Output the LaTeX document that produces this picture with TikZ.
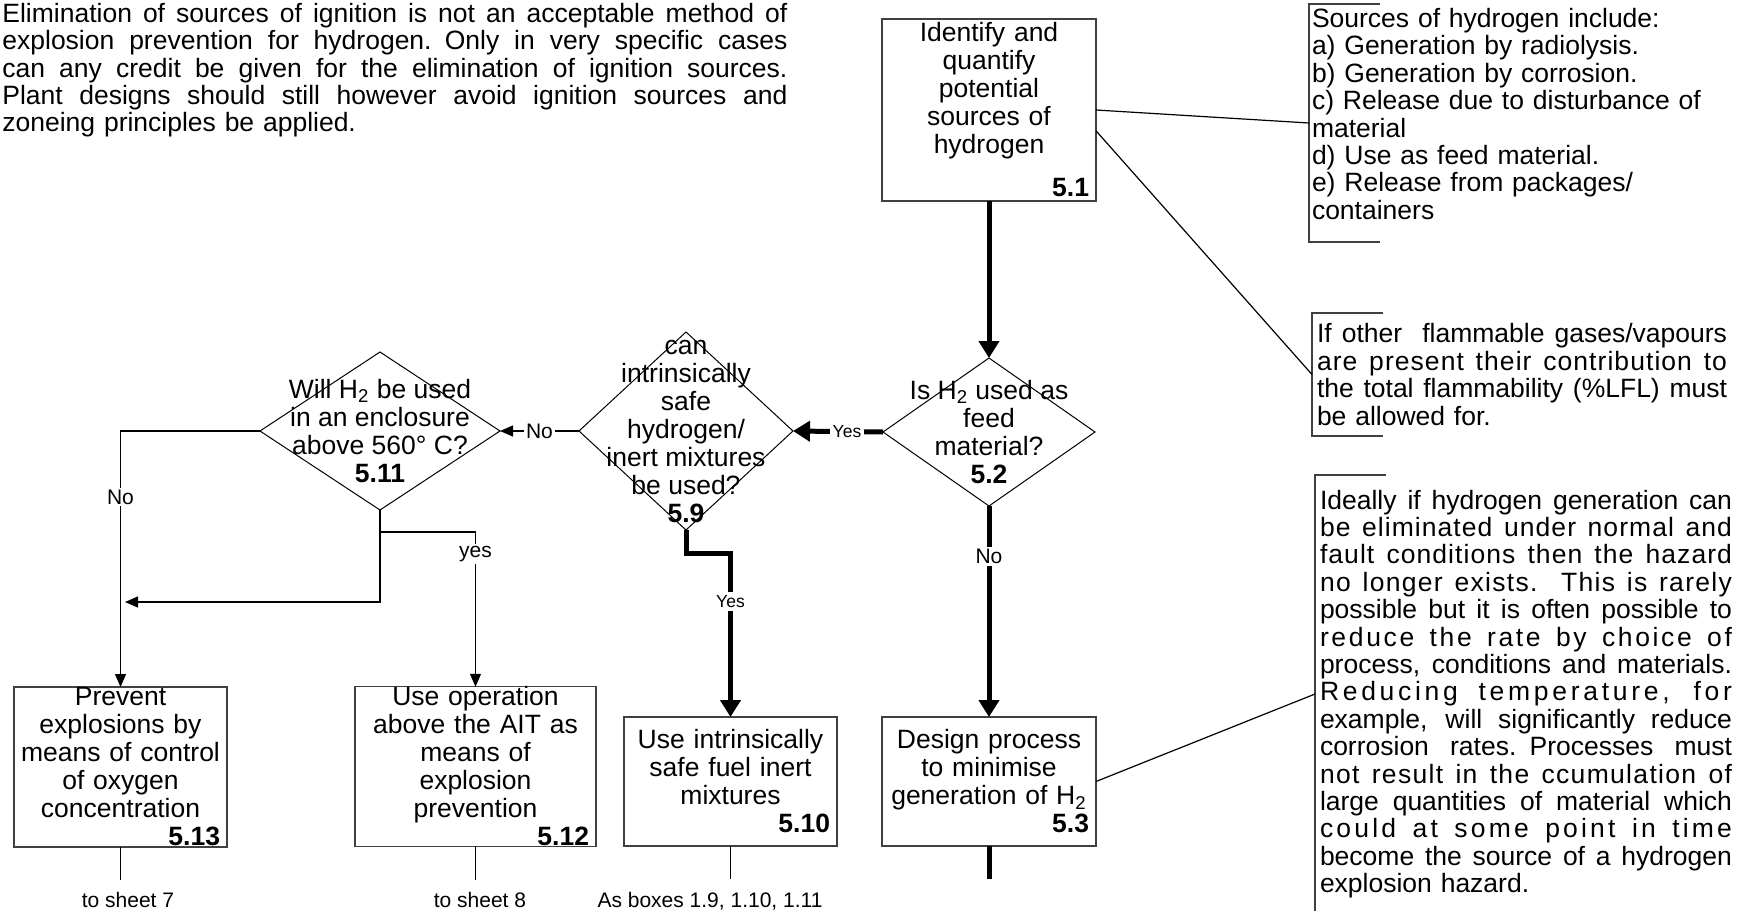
\documentclass[tikz,border=0pt]{standalone}
\usepackage{fontspec}
\setmainfont{Liberation Sans}
\usetikzlibrary{arrows.meta,shapes.geometric}

\newcommand{\boxfont}{\fontsize{13.25pt}{14pt}\selectfont}
\newcommand{\notefont}{\fontsize{13.25pt}{13.7pt}\selectfont}
\newcommand{\lblfont}{\fontsize{10.5pt}{12pt}\selectfont}
\newcommand{\yesfont}{\fontsize{8.75pt}{10pt}\selectfont}
\newcommand{\jline}[2][206pt]{\leavevmode\hbox to #1{\spaceskip=0.278em plus 1fil\relax #2}}
\newcommand{\lsline}[3][206pt]{\leavevmode\hbox to #1{\addfontfeature{LetterSpace=#2}\spaceskip=0.278em plus 1fil\relax #3}}
\newcommand{\boxno}[1]{\hskip 0pt plus 1filll\textbf{#1}}
\newcommand{\Htwo}{H\textsubscript{2}}

\tikzset{
  procbox/.style={draw=black!75, line width=0.65pt, align=center, font=\boxfont,
    inner xsep=3.5pt, inner ysep=0pt, outer sep=0pt},
  decision/.style={draw, diamond, line width=0.5pt, inner sep=0pt, outer sep=0pt},
  qtext/.style={align=center, font=\boxfont, inner sep=0pt},
  note/.style={anchor=north west, align=left, font=\notefont, inner ysep=1.75pt, outer sep=0pt},
  bracket/.style={draw=black!75, line width=0.6pt},
  flow/.style={line width=2.5pt},
  flowarr/.style={line width=2.5pt, -{Triangle[length=8.5pt,width=10pt]}},
  link/.style={line width=0.6pt},
  linkarr/.style={line width=0.6pt, -{Triangle[length=6.5pt,width=5.5pt]}},
  lbl/.style={fill=white, font=\lblfont, inner sep=1pt},
  yeslbl/.style={fill=white, font=\yesfont, inner sep=1.5pt},
  endlbl/.style={font=\lblfont, inner sep=0pt},
}

\begin{document}
\begin{tikzpicture}[x=0.5pt,y=-0.5pt]
  \useasboundingbox (0,0) rectangle (1742,911);

  % remark on ignition sources
  \node[anchor=north west, inner sep=0pt, text width=392.5pt, align=left,
    font=\fontsize{13.25pt}{13.6pt}\selectfont] (intro) at (2,3)
    {\jline[392.5pt]{Elimination of sources of ignition is not an acceptable method of}\\
     \jline[392.5pt]{explosion prevention for hydrogen. Only in very specific cases}\\
     \jline[392.5pt]{can any credit be given for the elimination of ignition sources.}\\
     \jline[392.5pt]{Plant designs should still however avoid ignition sources and}\\
     zoneing principles be applied.};

  % main column
  \node[procbox, minimum width=107pt, minimum height=91pt, text width=100pt] (b51) at (989,110)
    {Identify and\\quantify\\potential\\sources of\\hydrogen\\[7.5pt]\boxno{5.1}};
  \node[decision, minimum width=106pt, minimum height=74pt] (d52) at (989,432) {};
  \node[qtext] (q52) at (d52) {Is \Htwo{} used as\\feed\\material?\\\textbf{5.2}};
  \node[procbox, minimum width=107pt, minimum height=64.5pt, text width=100pt] (b53) at (989,781.5)
    {Design process\\to minimise\\generation of \Htwo\\\boxno{5.3}};

  % left branches
  \node[decision, minimum width=107pt, minimum height=99pt] (d59) at (686,431) {};
  \node[qtext] (q59) at (d59) {can\\intrinsically\\safe\\hydrogen/\\inert mixtures\\be used?\\\textbf{5.9}};
  \node[decision, minimum width=120pt, minimum height=79pt] (d511) at (380,431) {};
  \node[qtext] (q511) at (d511) {Will \Htwo{} be used\\in an enclosure\\above 560° C?\\\textbf{5.11}};

  \node[procbox, minimum width=106.5pt, minimum height=64.5pt, text width=99.5pt] (b510) at (730.5,781.5)
    {Use intrinsically\\safe fuel inert\\mixtures\\\boxno{5.10}};
  \node[procbox, minimum width=120.5pt, minimum height=79.5pt, text width=113.5pt] (b512) at (475.5,766.5)
    {Use operation\\above the AIT as\\means of\\explosion\\prevention\\\boxno{5.12}};
  \node[procbox, minimum width=106.5pt, minimum height=80pt, text width=99.5pt] (b513) at (120.5,767)
    {Prevent\\explosions by\\means of control\\of oxygen\\concentration\\\boxno{5.13}};

  % flow
  \draw[flowarr] (b51.south) -- (d52.north);
  \draw[flowarr] (d52.west) -- node[yeslbl, pos=0.4]{Yes} (d59.east);
  \draw[flowarr] (d52.south) -- node[lbl, pos=0.24]{No} (b53.north);
  \draw[flowarr] (d59.south) -- ++(0,23) -| node[yeslbl, pos=0.648]{Yes} (b510.north);
  \draw[linkarr] (d59.west) -- node[lbl]{No} (d511.east);
  \draw[linkarr] (d511.west) -| node[lbl, pos=0.629]{No} (b513.north);
  \draw[linkarr] (d511.south) -- ++(0,22) coordinate (split) -| node[lbl, pos=0.571]{yes} (b512.north);
  \coordinate (merge) at (125,602);
  \draw[linkarr] (split) |- (merge);

  % onward
  \draw[link] (b513.south) -- ++(0,33);
  \draw[link] (b512.south) -- ++(0,34);
  \draw[link] (b510.south) -- ++(0,33);
  \draw[flow] (b53.south) -- ++(0,33);
  \node[endlbl] (s7) at (128,900) {to sheet 7};
  \node[endlbl] (s8) at (480,900) {to sheet 8};
  \node[endlbl] (asb) at (710,901) {As boxes 1.9, 1.10, 1.11};

  % notes
  \node[note, inner xsep=1.5pt, text width=205pt, minimum height=119pt] (n1) at (1309,4)
    {Sources of hydrogen include:\\a) Generation by radiolysis.\\b) Generation by corrosion.\\
     c) Release due to disturbance of\\material\\d) Use as feed material.\\
     e) Release from packages/\\containers\rule[-9.25pt]{0pt}{9.5pt}};
  \node[note, inner xsep=2.5pt, text width=205pt, minimum height=61.5pt] (n2) at (1312,313)
    {\jline[205pt]{If other\ \ flammable gases/vapours}\\
     \lsline[205pt]{4}{are present their contribution to}\\
     \jline[205pt]{the total flammability (\%LFL) must}\\
     be allowed for.};
  \node[note, inner xsep=2.5pt, text width=206pt, minimum height=219pt] (n3) at (1315,475)
    {\jline{Ideally if hydrogen generation can}\\
     \lsline{4}{be eliminated under normal and}\\
     \lsline{4}{fault conditions then the hazard}\\
     \lsline{5}{no longer exists.\ \ This is rarely}\\
     \jline{possible but it is often possible to}\\
     \lsline{10}{reduce the rate by choice of}\\
     \jline{process, conditions and materials.}\\
     \lsline{14}{Reducing temperature, for}\\
     \jline{example, will significantly reduce}\\
     \jline{corrosion rates. Processes must}\\
     \lsline{5}{not result in the ccumulation of}\\
     \jline{large quantities of material which}\\
     \lsline{12}{could at some point in time}\\
     \jline{become the source of a hydrogen}\\
     explosion hazard.};

  \draw[bracket] (n1.north west) ++(71,0) -- (n1.north west) -- (n1.south west) -- ++(71,0);
  \draw[bracket] (n2.north west) ++(71,0) -- (n2.north west) -- (n2.south west) -- ++(71,0);
  \draw[bracket] (n3.north west) ++(71,0) -- (n3.north west) -- (n3.south west) -- ++(71,0);

  \draw[link] (b51.east) -- (n1.west);
  \draw[link] (b51.-11) -- (n2.west);
  \draw[link] (b53.east) -- (n3.west);
\end{tikzpicture}
\end{document}
